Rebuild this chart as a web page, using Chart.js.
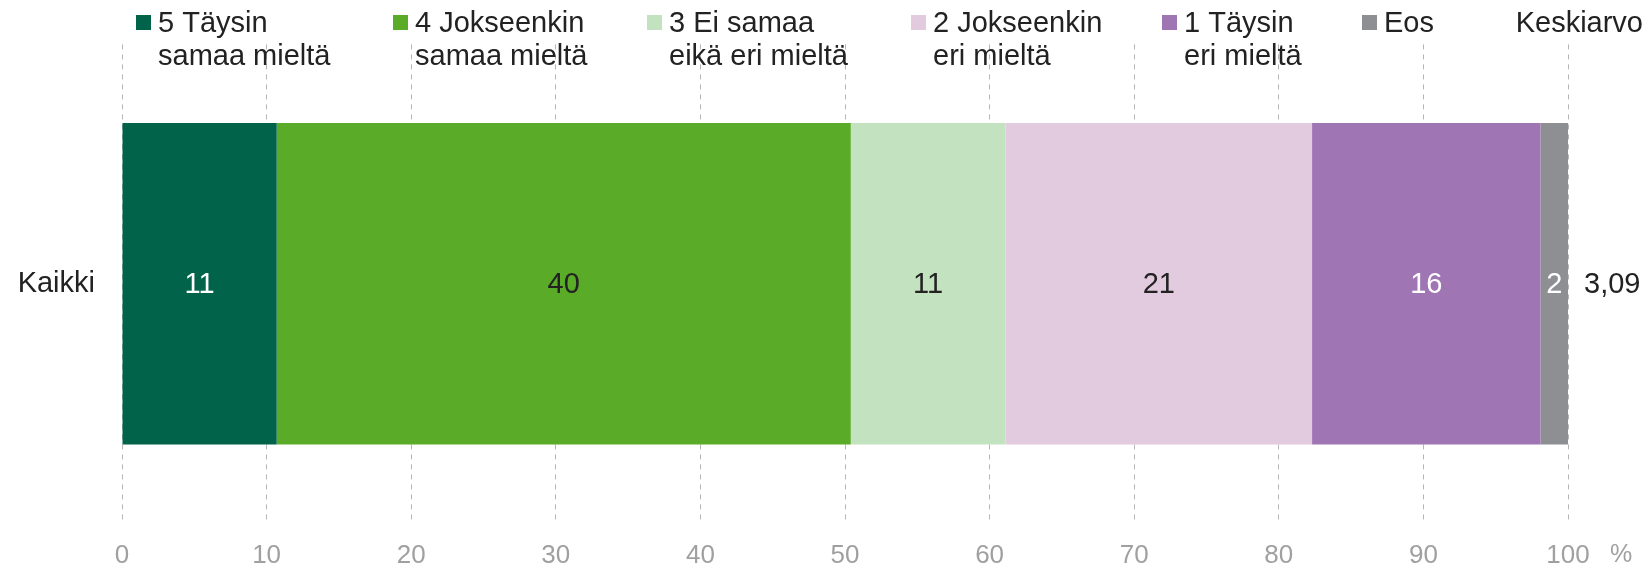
<!DOCTYPE html>
<html>
<head>
<meta charset="utf-8">
<script src="https://cdn.jsdelivr.net/npm/chart.js@4.4.1/dist/chart.umd.min.js"></script>
<style>
html,body{margin:0;padding:0;background:#fff;}
#wrap{width:1648px;height:570px;position:relative;}
</style>
</head>
<body>
<div id="wrap"><canvas id="c" width="1648" height="570"></canvas></div>
<script>
const categories = ['Kaikki'];
const seriesNames = [
  ['5 Täysin', 'samaa mieltä'],
  ['4 Jokseenkin', 'samaa mieltä'],
  ['3 Ei samaa', 'eikä eri mieltä'],
  ['2 Jokseenkin', 'eri mieltä'],
  ['1 Täysin', 'eri mieltä'],
  ['Eos']
];
const s5 = [10.7];
const s4 = [39.7];
const s3 = [10.7];
const s2 = [21.2];
const s1 = [15.8];
const eos = [1.9];
const keskiarvo = ['3,09'];
const keskiarvoTitle = 'Keskiarvo';
const xTicks = [0, 10, 20, 30, 40, 50, 60, 70, 80, 90, 100];
const unitLabel = '%';

const colors = ['#00634a', '#5aab28', '#c3e2c0', '#e2cadf', '#9f76b3', '#8e8f93'];
const labelColors = ['#ffffff', '#222222', '#222222', '#222222', '#ffffff', '#ffffff'];
const FONT = '"Liberation Sans", Arial, sans-serif';

const seriesValues = [s5, s4, s3, s2, s1, eos];
const datasets = seriesValues.map((v, i) => ({
  label: seriesNames[i].join(' '),
  data: v,
  backgroundColor: colors[i],
  borderWidth: 0,
  categoryPercentage: 1,
  barPercentage: 0.672
}));

const legendX = [136, 393, 647, 911, 1162, 1362];

const customPlugin = {
  id: 'custom',
  afterDatasetsDraw(chart) {
    const ctx = chart.ctx;
    const xs = chart.scales.x;
    ctx.save();
    // value labels
    ctx.font = '29px ' + FONT;
    ctx.textAlign = 'center';
    ctx.textBaseline = 'middle';
    chart.data.datasets.forEach((ds, i) => {
      const meta = chart.getDatasetMeta(i);
      meta.data.forEach((bar, j) => {
        const v = ds.data[j];
        ctx.fillStyle = labelColors[i];
        ctx.fillText(String(Math.round(v)), (bar.x + bar.base) / 2, bar.y + 1);
      });
    });
    // keskiarvo values
    const meta0 = chart.getDatasetMeta(0);
    ctx.textAlign = 'left';
    ctx.fillStyle = '#222222';
    meta0.data.forEach((bar, j) => {
      ctx.fillText(keskiarvo[j], xs.right + 16, bar.y + 1);
    });
    // unit label
    ctx.font = '25px ' + FONT;
    ctx.fillStyle = '#a0a0a0';
    ctx.textAlign = 'left';
    ctx.fillText(unitLabel, xs.right + 42, 555);
    // legend
    ctx.font = '29px ' + FONT;
    ctx.textBaseline = 'alphabetic';
    seriesNames.forEach((lines, i) => {
      const x = legendX[i];
      ctx.fillStyle = colors[i];
      ctx.fillRect(x, 15, 15, 15);
      ctx.fillStyle = '#222222';
      lines.forEach((t, k) => {
        ctx.fillText(t, x + 22, 32 + k * 33);
      });
    });
    ctx.textAlign = 'right';
    ctx.fillText(keskiarvoTitle, 1643, 32);
    ctx.restore();
  }
};

new Chart(document.getElementById('c'), {
  type: 'bar',
  data: { labels: categories, datasets },
  options: {
    indexAxis: 'y',
    responsive: false,
    animation: false,
    events: [],
    layout: { padding: { left: 0, right: 80, top: 43, bottom: 0 } },
    plugins: { legend: { display: false }, tooltip: { enabled: false } },
    scales: {
      x: {
        stacked: true,
        min: 0,
        max: 100,
        afterBuildTicks(scale) { scale.ticks = xTicks.map(v => ({ value: v })); },
        grid: { color: '#b5b5b5', lineWidth: 1, drawTicks: false },
        border: { display: false, dash: [5, 5] },
        ticks: { color: '#a0a0a0', font: { size: 26, family: FONT }, padding: 17, maxRotation: 0 },
        afterFit(scale) { scale.height = 47; }
      },
      y: {
        stacked: true,
        grid: { display: false, drawTicks: false },
        border: { display: false },
        ticks: { color: '#222222', font: { size: 29, family: FONT }, padding: 27 },
        afterFit(scale) { scale.width = 122; }
      }
    }
  },
  plugins: [customPlugin]
});
</script>
</body>
</html>
